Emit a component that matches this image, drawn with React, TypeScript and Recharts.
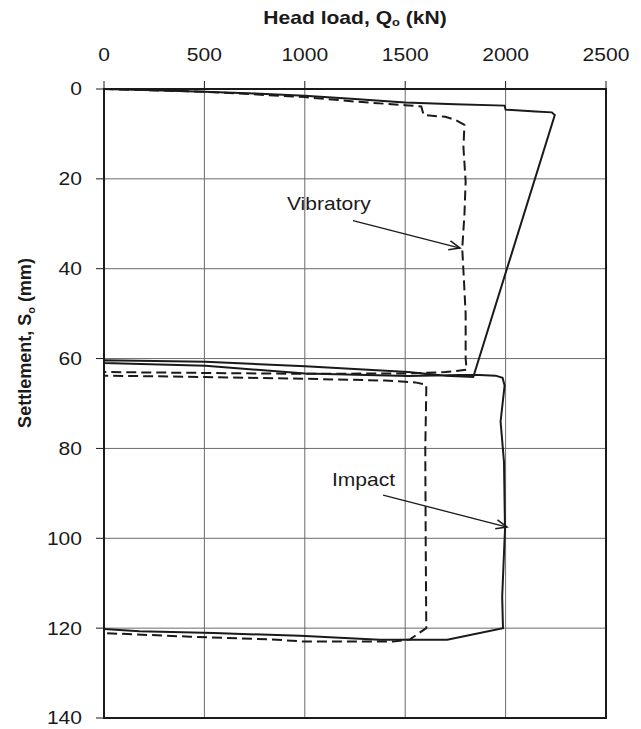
import React from 'react';
import {
  ComposedChart,
  Line,
  XAxis,
  YAxis,
  CartesianGrid,
  ReferenceArea,
  ReferenceLine,
  ReferenceDot,
  Label,
} from 'recharts';

const xTicks = [0, 500, 1000, 1500, 2000, 2500];
const yTicks = [0, 20, 40, 60, 80, 100, 120, 140];

// Impact-driven tube (solid line): head load (kN) and settlement (mm)
const impactLoad = [
  0, 250, 500, 750, 1000, 1250, 1500, 1750, 1995, 2000, 2150, 2230, 2245,
  1839, 1700, 1515, 1002, 505, 0,
  0, 505, 1002, 1515, 1843, 1950, 1985, 1995, 1975, 1992, 1997, 1983, 1987,
  1709, 1372, 976, 547, 177, 0,
];
const impactSettlement = [
  0, 0.3, 0.6, 1.0, 1.5, 2.2, 3.0, 3.4, 3.7, 4.6, 5.0, 5.2, 5.8,
  64.1, 63.8, 63.0, 61.7, 60.7, 60.4,
  61.0, 61.6, 63.3, 63.9, 63.6, 63.8, 64.3, 66.0, 74, 83, 98, 113, 120,
  122.6, 122.6, 121.7, 121.1, 120.7, 120.2,
];

// Vibratory-driven tube (dashed line)
const vibratoryLoad = [
  0, 500, 1000, 1250, 1500, 1580, 1592, 1700, 1750, 1795, 1790, 1801, 1795, 1784, 1793, 1801, 1801, 1806,
  1700, 1515, 1002, 505, 0,
  0, 505, 1002, 1400, 1550, 1605, 1605, 1600, 1602, 1605,
  1524, 1439, 1002, 833, 429, 0,
];
const vibratorySettlement = [
  0, 0.6, 1.8, 2.8, 3.6, 3.9, 5.8, 6.2, 6.9, 8.0, 13, 20.6, 28, 35.5, 43, 50, 60, 62.5,
  63.0, 63.3, 63.4, 63.2, 63.0,
  63.8, 64.1, 64.5, 64.9, 65.3, 65.8, 67, 80, 100, 120,
  122.5, 123, 123, 122.5, 121.9, 121.1,
];

// Annotations: label anchor and arrow (data coordinates)
const annotationText = ['Vibratory', 'Impact'];
const annotationTextAt = [
  { q: 911, s: 25.4 },
  { q: 1135, s: 87.0 },
];
const annotationArrow = [
  [{ x: 1240, y: 29.3 }, { x: 1773, y: 35.4 }],
  [{ x: 1390, y: 90.4 }, { x: 2007, y: 97.5 }],
];

const impactData = impactLoad.map((q, i) => ({ q, s: impactSettlement[i] }));
const vibratoryData = vibratoryLoad.map((q, i) => ({ q, s: vibratorySettlement[i] }));

const FONT = '"Liberation Sans", Arial, sans-serif';
const INK = '#1a1a1a';
const SX = 1.17; // horizontal stretch of the scanned lettering

const Arrow = (props: any) => {
  const { x1, y1, x2, y2 } = props;
  const ang = Math.atan2(y2 - y1, x2 - x1);
  const L = 11;
  const W = 4.5;
  const bx = x2 - L * Math.cos(ang);
  const by = y2 - L * Math.sin(ang);
  const p1 = `${bx + W * Math.sin(ang)},${by - W * Math.cos(ang)}`;
  const p2 = `${bx - W * Math.sin(ang)},${by + W * Math.cos(ang)}`;
  return (
    <g>
      <line x1={x1} y1={y1} x2={x2} y2={y2} stroke={INK} strokeWidth={1.3} />
      <polyline points={`${p1} ${x2},${y2} ${p2}`} fill="none" stroke={INK} strokeWidth={1.5} />
    </g>
  );
};

const makeText = (txt: string) => (props: any) => (
  <g transform={`translate(${props.cx},${props.cy}) scale(${SX},1)`}>
    <text x={0} y={0} fontFamily={FONT} fontSize={18} fill={INK} textAnchor="start" dominantBaseline="central">
      {txt}
    </text>
  </g>
);

const XTick = (props: any) => {
  const { x, y, payload } = props;
  return (
    <g transform={`translate(${x},${y}) scale(${SX},1)`}>
      <text x={0} y={0} fontFamily={FONT} fontSize={18} fill={INK} textAnchor="middle" dominantBaseline="central">
        {payload.value}
      </text>
    </g>
  );
};

const YTick = (props: any) => {
  const { x, y, payload } = props;
  return (
    <g transform={`translate(${x},${y}) scale(${SX},1)`}>
      <text x={0} y={0} fontFamily={FONT} fontSize={18} fill={INK} textAnchor="end" dominantBaseline="central">
        {payload.value}
      </text>
    </g>
  );
};

const XTitle = (props: any) => {
  const vb = props.viewBox || {};
  const cx = vb.x + vb.width / 2;
  return (
    <g transform={`translate(${cx},18) scale(${SX},1)`}>
      <text x={0} y={0} textAnchor="middle" dominantBaseline="central" fontFamily={FONT} fontWeight="bold" fontSize={18} fill={INK}>
        Head load, Q
        <tspan dy={4} fontSize={11}>o</tspan>
        <tspan dy={-4}> (kN)</tspan>
      </text>
    </g>
  );
};

const YTitle = () => {
  const x = 31;
  const y = 343;
  return (
    <text
      x={x}
      y={y}
      transform={`rotate(-90, ${x}, ${y})`}
      textAnchor="middle"
      fontFamily={FONT}
      fontWeight="bold"
      fontSize={18}
      fill={INK}
    >
      Settlement, S
      <tspan dy={4} fontSize={11}>o</tspan>
      <tspan dy={-4}> (mm)</tspan>
    </text>
  );
};

export default function App() {
  return (
    <div style={{ position: 'absolute', left: 0, top: 0, width: 641, height: 729, background: '#fff' }}>
      <ComposedChart
        width={641}
        height={729}
        margin={{ top: 0, right: 35, bottom: 11, left: 0 }}
        style={{ fontFamily: FONT }}
      >
        <CartesianGrid stroke="#6a6a6a" strokeWidth={1} />
        <XAxis
          xAxisId={0}
          type="number"
          dataKey="q"
          orientation="top"
          domain={[0, 2500]}
          ticks={xTicks}
          height={89}
          axisLine={false}
          tickLine={{ stroke: INK, strokeWidth: 1 }}
          tickSize={8}
          tickMargin={26}
          tick={<XTick />}
          allowDataOverflow
        >
          <Label content={<XTitle />} />
        </XAxis>
        <YAxis
          yAxisId={0}
          type="number"
          dataKey="s"
          reversed
          domain={[0, 140]}
          ticks={yTicks}
          width={104}
          axisLine={false}
          tickLine={{ stroke: INK, strokeWidth: 1 }}
          tickSize={8}
          tickMargin={14}
          tick={<YTick />}
          allowDataOverflow
        >
          <Label content={<YTitle />} />
        </YAxis>
        <ReferenceArea
          x1={0}
          x2={2500}
          y1={0}
          y2={140}
          fill="none"
          fillOpacity={0}
          stroke={INK}
          strokeWidth={2}
          ifOverflow="visible"
        />
        <Line
          data={vibratoryData}
          dataKey="s"
          type="linear"
          stroke={INK}
          strokeWidth={2}
          strokeDasharray="10 5"
          dot={false}
          activeDot={false}
          isAnimationActive={false}
        />
        <Line
          data={impactData}
          dataKey="s"
          type="linear"
          stroke={INK}
          strokeWidth={2}
          dot={false}
          activeDot={false}
          isAnimationActive={false}
        />
        {annotationArrow.map((seg, i) => (
          <ReferenceLine key={`a${i}`} segment={seg} shape={Arrow} ifOverflow="visible" />
        ))}
        {annotationText.map((t, i) => (
          <ReferenceDot
            key={`t${i}`}
            x={annotationTextAt[i].q}
            y={annotationTextAt[i].s}
            r={0}
            shape={makeText(t)}
            ifOverflow="visible"
          />
        ))}
      </ComposedChart>
    </div>
  );
}
